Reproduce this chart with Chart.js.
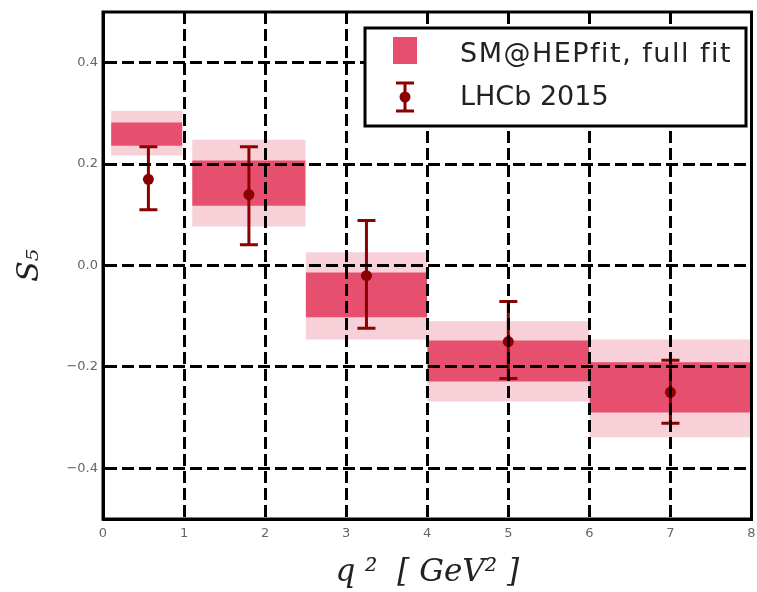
<!DOCTYPE html>
<html>
<head>
<meta charset="utf-8">
<script src="https://cdn.jsdelivr.net/npm/chart.js@4.4.1/dist/chart.umd.min.js"></script>
<style>
  html, body { margin: 0; padding: 0; background: #ffffff; }
  #wrap { width: 757px; height: 592px; }
</style>
</head>
<body>
<div id="wrap"><canvas id="chart" width="757" height="592"></canvas></div>
<script>
// q^2 bins [GeV^2]
const binLo = [0.1, 1.1, 2.5, 4.0, 6.0];
const binHi = [0.98, 2.5, 4.0, 6.0, 8.0];

// SM@HEPfit full fit: outer and inner probability bands for S5
const fitOuterHi = [0.305, 0.248, 0.026, -0.110, -0.146];
const fitOuterLo = [0.217, 0.077, -0.146, -0.268, -0.339];
const fitInnerHi = [0.282, 0.207, -0.014, -0.148, -0.191];
const fitInnerLo = [0.236, 0.118, -0.102, -0.229, -0.290];

// LHCb 2015 measurement
const lhcbQ2 = [0.56, 1.80, 3.25, 5.0, 7.0];
const lhcbS5 = [0.17, 0.14, -0.02, -0.15, -0.25];
const lhcbErrUp = [0.064, 0.094, 0.109, 0.079, 0.063];
const lhcbErrDown = [0.060, 0.099, 0.104, 0.073, 0.061];

// axis ticks
const xTicks = [0, 1, 2, 3, 4, 5, 6, 7, 8];
const yTicks = [-0.4, -0.2, 0.0, 0.2, 0.4];
const yTickLabels = ['\u22120.4', '\u22120.2', '0.0', '0.2', '0.4'];

const legendLabels = ['SM@HEPfit, full fit', 'LHCb 2015'];

const BAND_DARK = '#e64f6e';
const BAND_LIGHT = '#f7d0d8';
const DATA_RED = '#8b0000';

// one filled rectangle per bin and band level: upper edge filled down to lower edge.
// Higher `order` is painted first, so outer bands sit underneath inner ones.
const datasets = [];
function addBand(his, los, color, order) {
  for (let i = 0; i < binLo.length; i++) {
    datasets.push({
      type: 'line', order,
      data: [{x: binLo[i], y: his[i]}, {x: binHi[i], y: his[i]}],
      borderWidth: 0, borderColor: color, backgroundColor: color,
      pointRadius: 0, fill: '+1', tension: 0
    });
    datasets.push({
      type: 'line', order,
      data: [{x: binLo[i], y: los[i]}, {x: binHi[i], y: los[i]}],
      borderWidth: 0, borderColor: color, backgroundColor: color,
      pointRadius: 0, fill: false, tension: 0
    });
  }
}
addBand(fitOuterHi, fitOuterLo, BAND_LIGHT, 3);
addBand(fitInnerHi, fitInnerLo, BAND_DARK, 2);

datasets.push({
  type: 'scatter', order: 1,
  data: lhcbQ2.map((q, i) => ({x: q, y: lhcbS5[i]})),
  pointRadius: 5.5, pointStyle: 'circle',
  backgroundColor: DATA_RED, borderColor: DATA_RED, borderWidth: 0
});

// vertical error bars with caps for the measurement
const errorBars = {
  id: 'errorBars',
  afterDatasetsDraw(chart) {
    const {ctx, scales: {x, y}} = chart;
    ctx.save();
    ctx.strokeStyle = DATA_RED;
    ctx.lineWidth = 3;
    for (let i = 0; i < lhcbQ2.length; i++) {
      const px = x.getPixelForValue(lhcbQ2[i]);
      const top = y.getPixelForValue(lhcbS5[i] + lhcbErrUp[i]);
      const bot = y.getPixelForValue(lhcbS5[i] - lhcbErrDown[i]);
      ctx.beginPath();
      ctx.moveTo(px, top); ctx.lineTo(px, bot);
      ctx.moveTo(px - 9, top); ctx.lineTo(px + 9, top);
      ctx.moveTo(px - 9, bot); ctx.lineTo(px + 9, bot);
      ctx.stroke();
    }
    ctx.restore();
  }
};

// solid frame round the plotting area and the boxed legend in its top right corner
const frameAndLegend = {
  id: 'frameAndLegend',
  afterDraw(chart) {
    const {ctx, chartArea: a} = chart;
    ctx.save();
    ctx.strokeStyle = '#000';
    ctx.lineWidth = 3;
    ctx.strokeRect(a.left, a.top, a.right - a.left, a.bottom - a.top);

    const bx = a.left + 262, by = a.top + 16, bw = 381, bh = 98;
    ctx.fillStyle = '#fff';
    ctx.fillRect(bx, by, bw, bh);
    ctx.strokeRect(bx, by, bw, bh);

    ctx.fillStyle = BAND_DARK;
    ctx.fillRect(bx + 28, by + 9, 24, 27);

    const ex = bx + 40, ey = by + 69;
    ctx.strokeStyle = DATA_RED;
    ctx.beginPath();
    ctx.moveTo(ex, ey - 14); ctx.lineTo(ex, ey + 14);
    ctx.moveTo(ex - 9, ey - 14); ctx.lineTo(ex + 9, ey - 14);
    ctx.moveTo(ex - 9, ey + 14); ctx.lineTo(ex + 9, ey + 14);
    ctx.stroke();
    ctx.fillStyle = DATA_RED;
    ctx.beginPath(); ctx.arc(ex, ey, 5.5, 0, Math.PI * 2); ctx.fill();

    ctx.fillStyle = '#222';
    ctx.font = '27px "DejaVu Sans"';
    ctx.textBaseline = 'alphabetic';
    ctx.textAlign = 'left';
    if ('letterSpacing' in ctx) ctx.letterSpacing = '1.5px';
    ctx.fillText(legendLabels[0], bx + 95, by + 34);
    if ('letterSpacing' in ctx) ctx.letterSpacing = '0px';
    ctx.fillText(legendLabels[1], bx + 95, by + 77);
    ctx.restore();
  }
};

const gridOpts = {color: '#000', lineWidth: 3, drawTicks: false, z: 1};
const borderOpts = {display: true, color: '#000', width: 3, dash: [12, 5], z: 1};

new Chart(document.getElementById('chart'), {
  data: {datasets},
  options: {
    responsive: false,
    animation: false,
    devicePixelRatio: 1,
    layout: {padding: {left: 0, right: 4, top: 12, bottom: 0}},
    plugins: {legend: {display: false}, tooltip: {enabled: false}},
    scales: {
      x: {
        type: 'linear', min: 0, max: 8,
        afterBuildTicks: s => { s.ticks = xTicks.map(v => ({value: v})); },
        afterFit: s => { s.height = 73; s.paddingLeft = 0; s.paddingRight = 0; },
        grid: gridOpts,
        border: borderOpts,
        ticks: {
          z: 1, color: '#666', padding: 7, maxRotation: 0,
          font: {size: 13, family: 'DejaVu Sans'},
          callback: v => String(v)
        },
        title: {
          display: true, text: 'q \u00b2  [ GeV\u00b2 ]', color: '#222',
          font: {family: 'DejaVu Serif', style: 'italic', size: 31},
          padding: {top: 0, bottom: 0}
        }
      },
      y: {
        type: 'linear', min: -0.5, max: 0.5,
        afterBuildTicks: s => { s.ticks = yTicks.map(v => ({value: v})); },
        afterFit: s => { s.width = 103; s.paddingTop = 0; s.paddingBottom = 0; },
        grid: gridOpts,
        border: borderOpts,
        ticks: {
          z: 1, color: '#666', padding: 5,
          font: {size: 13, family: 'DejaVu Sans'},
          callback: v => yTickLabels[yTicks.findIndex(t => Math.abs(t - v) < 1e-9)]
        },
        title: {
          display: true, text: 'S\u2085', color: '#222',
          font: {family: 'DejaVu Serif', style: 'italic', size: 30},
          padding: {top: 12, bottom: 0}
        }
      }
    }
  },
  plugins: [errorBars, frameAndLegend]
});
</script>
</body>
</html>
